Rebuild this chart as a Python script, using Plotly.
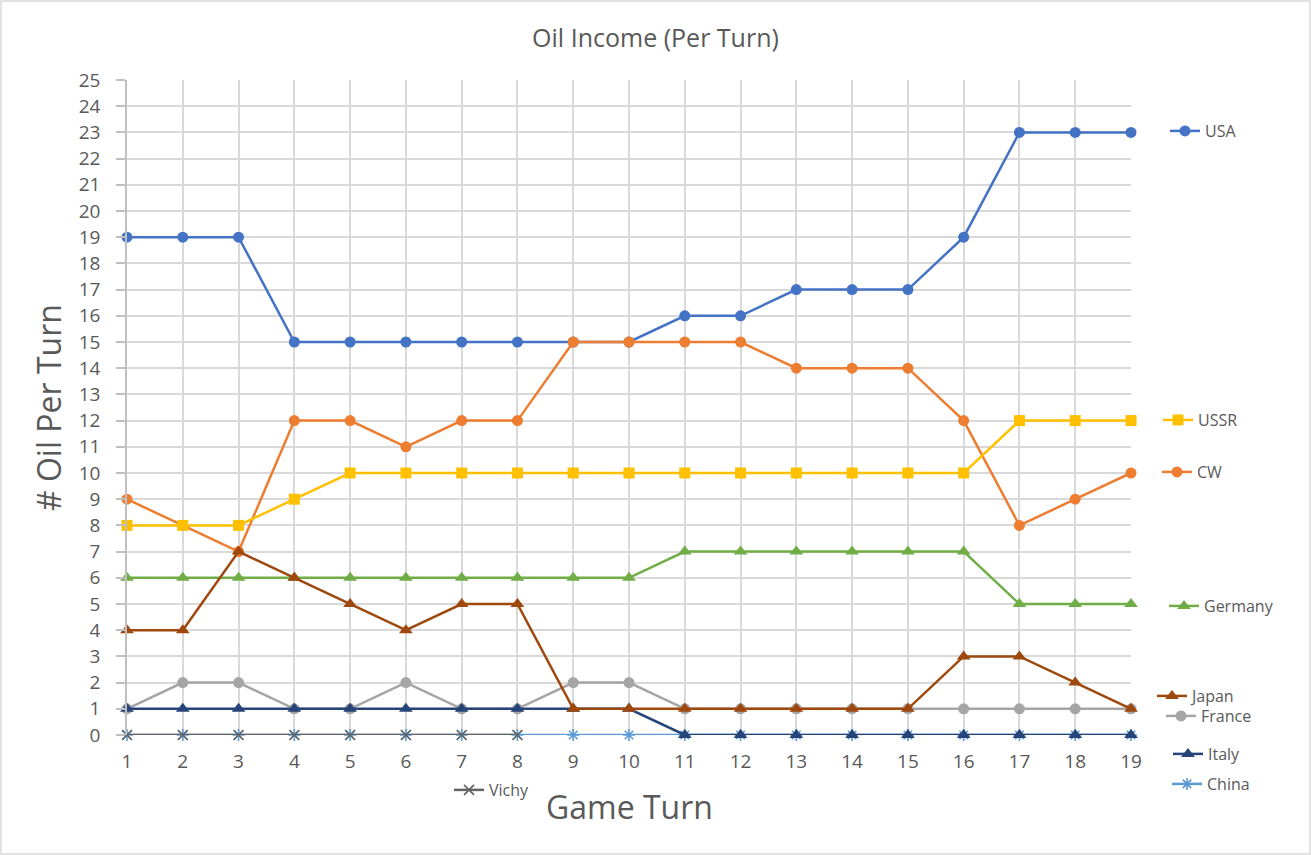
import plotly.graph_objects as go

turns = list(range(1, 20))
usa = [19, 19, 19, 15, 15, 15, 15, 15, 15, 15, 16, 16, 17, 17, 17, 19, 23, 23, 23]
ussr = [8, 8, 8, 9, 10, 10, 10, 10, 10, 10, 10, 10, 10, 10, 10, 10, 12, 12, 12]
cw = [9, 8, 7, 12, 12, 11, 12, 12, 15, 15, 15, 15, 14, 14, 14, 12, 8, 9, 10]
germany = [6, 6, 6, 6, 6, 6, 6, 6, 6, 6, 7, 7, 7, 7, 7, 7, 5, 5, 5]
japan = [4, 4, 7, 6, 5, 4, 5, 5, 1, 1, 1, 1, 1, 1, 1, 3, 3, 2, 1]
france = [1, 2, 2, 1, 1, 2, 1, 1, 2, 2, 1, 1, 1, 1, 1, 1, 1, 1, 1]
italy = [1, 1, 1, 1, 1, 1, 1, 1, 1, 1, 0, 0, 0, 0, 0, 0, 0, 0, 0]
china = [0] * 19
vichy = [0, 0, 0, 0, 0, 0, 0, 0] + [None] * 11

W, H = 1311, 855
PL, PR, PT, PB = 127, 1131, 80, 735
PW, PH = PR - PL, PB - PT
TXT = "#595959"
FONT = "Open Sans, sans-serif"


def px_x(p):
    return (p - PL) / PW


def px_y(p):
    return (PB - p) / PH


# (name, data, color, symbol, legend-id, legend text start px x, center px y)
series = [
    ("USA", usa, "#4472C4", "circle", "legend", 1209, 131),
    ("CW", cw, "#ED7D31", "circle", "legend2", 1201, 472),
    ("USSR", ussr, "#FFC000", "square", "legend3", 1202, 420),
    ("Germany", germany, "#70AD47", "triangle-up", "legend4", 1208, 606),
    ("China", china, "#5B9BD5", "asterisk-open", "legend5", 1211, 784),
    ("Vichy", vichy, "#636363", "x-thin-open", "legend6", 493, 790),
    ("France", france, "#A5A5A5", "circle", "legend7", 1205, 716),
    ("Italy", italy, "#264478", "triangle-up", "legend8", 1212, 754),
    ("Japan", japan, "#9E480E", "triangle-up", "legend9", 1196, 696),
]

fig = go.Figure()
legends = {}
for name, data, color, sym, lg, tx, ly in series:
    open_sym = sym.endswith("open")
    size = 10 if open_sym else (12 if sym.startswith("triangle") else 11)
    fig.add_trace(go.Scatter(
        x=turns, y=data, name=name, mode="lines+markers",
        line=dict(color=color, width=2.5),
        marker=dict(symbol=sym, size=size, color=color,
                    line=dict(color=color, width=1.6 if open_sym else 0)),
        legend=lg, connectgaps=False, cliponaxis=False,
    ))
    legends[lg] = dict(
        x=(tx - 44) / W, y=1 - ly / H, xref="container", yref="container",
        xanchor="left", yanchor="middle", bgcolor="rgba(0,0,0,0)",
        font=dict(family=FONT, size=16, color=TXT),
        itemwidth=30, borderwidth=0,
    )

fig.update_layout(
    width=W, height=H,
    margin=dict(l=PL, r=W - PR, t=PT, b=H - PB, autoexpand=False),
    paper_bgcolor="white", plot_bgcolor="white",
    showlegend=True,
    title=dict(text="Oil Income (Per Turn)", x=0.5, xanchor="center",
               y=1 - 38 / H, yanchor="middle", xref="container", yref="container",
               font=dict(family=FONT, size=25, color=TXT)),
    xaxis=dict(range=[1, 19], tickmode="linear", tick0=1, dtick=1,
               showgrid=True, gridcolor="#D9D9D9", gridwidth=1.5,
               zeroline=False, showline=False, ticks="", ticklabelstandoff=13,
               tickfont=dict(family=FONT, size=19, color=TXT)),
    yaxis=dict(range=[0, 25], tickmode="linear", tick0=0, dtick=1,
               showgrid=True, gridcolor="#D9D9D9", gridwidth=1.5,
               zeroline=False, showline=True, linecolor="#BFBFBF", linewidth=1.5,
               ticks="outside", ticklen=9, tickcolor="#BFBFBF", tickwidth=1.5,
               ticklabelstandoff=12,
               tickfont=dict(family=FONT, size=19, color=TXT)),
    annotations=[
        dict(text="Game Turn", xref="paper", yref="paper",
             x=px_x(629), y=px_y(806), xanchor="center", yanchor="middle",
             showarrow=False, font=dict(family=FONT, size=32, color=TXT)),
        dict(text="# Oil Per Turn", xref="paper", yref="paper",
             x=px_x(48), y=px_y(408), xanchor="center", yanchor="middle",
             textangle=-90, showarrow=False,
             font=dict(family=FONT, size=32, color=TXT)),
    ],
    shapes=[dict(type="rect", xref="paper", yref="paper",
                 x0=px_x(1), x1=px_x(W - 1), y0=px_y(H - 1), y1=px_y(1),
                 line=dict(color="#D9D9D9", width=1.5), fillcolor="rgba(0,0,0,0)",
                 layer="below")],
    **legends,
)

fig.write_html("out.html")
